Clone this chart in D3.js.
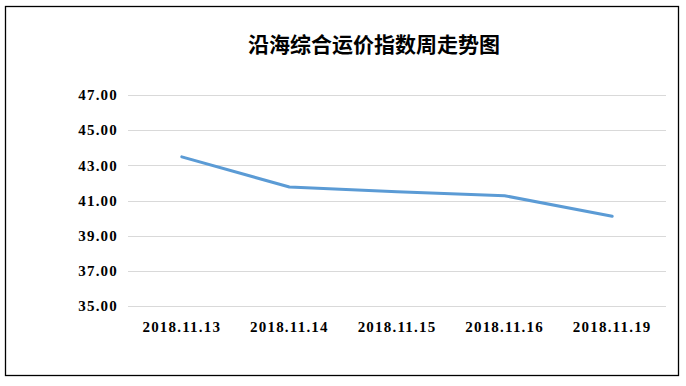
<!DOCTYPE html>
<meta charset="utf-8">
<style>

    body {
        margin: 0;
        background: #fff;
    }

    .title {
        font: bold 21px "Noto Sans CJK SC", sans-serif;
        fill: #000;
    }

    .axis text {
        font: bold 15px "Liberation Serif", "DejaVu Serif", serif;
        letter-spacing: 1.2px;
        fill: #000;
    }

    .axis path, .axis line {
        display: none;
    }

    .grid line {
        stroke: #d9d9d9;
        stroke-width: 1;
    }

    path.line {
        fill: none;
        stroke: #5b9bd5;
        stroke-width: 3;
        stroke-linejoin: round;
        stroke-linecap: round;
    }

</style>
<body>
<script src="https://cdn.jsdelivr.net/npm/d3@7"></script>
<script>

    var dates = ["2018.11.13", "2018.11.14", "2018.11.15", "2018.11.16", "2018.11.19"];
    var values = [43.48, 41.77, 41.50, 41.27, 40.10];
    var yTicks = [35, 37, 39, 41, 43, 45, 47];

    var W = 686, H = 386;
    var margin = {top: 95, right: 20, bottom: 80, left: 128},
        width = 666 - margin.left,
        height = 306 - margin.top;

    var svg = d3.select("body").append("svg")
            .attr("width", W)
            .attr("height", H);

    // chart frame
    svg.append("rect")
            .attr("x", 5.5)
            .attr("y", 6.5)
            .attr("width", 673)
            .attr("height", 369)
            .attr("fill", "#fff")
            .attr("stroke", "#000")
            .attr("stroke-width", 1.3);

    svg.append("text")
            .attr("class", "title")
            .attr("x", 374)
            .attr("y", 52)
            .attr("text-anchor", "middle")
            .text("沿海综合运价指数周走势图");

    var g = svg.append("g")
            .attr("transform", "translate(" + margin.left + "," + margin.top + ")");

    var x = d3.scaleBand()
            .domain(dates)
            .range([0, width]);

    var y = d3.scaleLinear()
            .domain([35, 47])
            .range([height, 0]);

    g.append("g")
            .attr("class", "grid")
            .selectAll("line")
            .data(yTicks)
            .enter().append("line")
            .attr("x1", 0)
            .attr("x2", width)
            .attr("y1", function(d) { return Math.round(y(d)) + 0.5; })
            .attr("y2", function(d) { return Math.round(y(d)) + 0.5; });

    g.append("g")
            .attr("class", "y axis")
            .call(d3.axisLeft(y).tickValues(yTicks).tickFormat(d3.format(".2f")).tickSize(0).tickPadding(10));

    g.append("g")
            .attr("class", "x axis")
            .attr("transform", "translate(0," + height + ")")
            .call(d3.axisBottom(x).tickSize(0).tickPadding(15));

    var line = d3.line()
            .x(function(d, i) { return x(dates[i]) + x.bandwidth() / 2; })
            .y(function(d) { return y(d); });

    g.append("path")
            .datum(values)
            .attr("class", "line")
            .attr("d", line);

</script>
